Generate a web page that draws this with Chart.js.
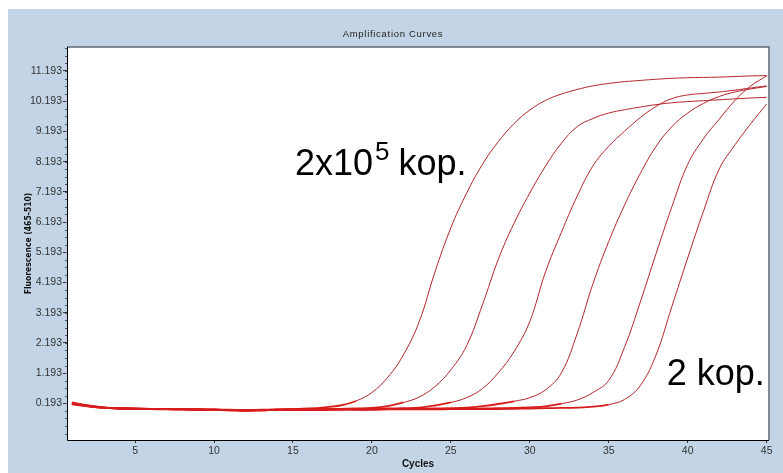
<!DOCTYPE html>
<html>
<head>
<meta charset="utf-8">
<title>Amplification Curves</title>
<script src="https://cdn.jsdelivr.net/npm/chart.js@4.4.1/dist/chart.umd.min.js"></script>
<style>
  html, body { margin: 0; padding: 0; background: #fff; }
  #wrap { width: 783px; height: 473px; }
</style>
</head>
<body>
<div id="wrap"><canvas id="canvas" width="783" height="473"></canvas></div>
<script>
// cycles and fluorescence per sample
const cycles = [1, 2, 3, 4, 5, 6, 7, 8, 9, 10, 11, 12, 13, 14, 15, 16, 17, 18, 19, 20, 21, 22, 23,
  24, 25, 26, 27, 28, 29, 30, 31, 32, 33, 34, 35, 36, 37, 38, 39, 40, 41, 42, 43, 44, 45];

const sample1 = [0.22, 0.12, 0.05, 0.03, 0.02, 0.01, 0.01, 0.00, 0.00, -0.01, -0.02, -0.03, -0.02, -0.01, 0.00,
  0.02, 0.06, 0.12, 0.27, 0.55, 1.05, 1.80, 2.90, 4.55, 6.00, 7.15, 8.10, 8.85, 9.45, 9.90,
  10.22, 10.43, 10.58, 10.70, 10.78, 10.84, 10.88, 10.92, 10.95, 10.97, 10.98, 10.99, 11.01, 11.03, 11.04];
const sample2 = [0.18, 0.10, 0.04, 0.02, 0.01, 0.00, 0.00, -0.01, -0.01, -0.02, -0.03, -0.04, -0.03, -0.02, -0.01,
  0.00, 0.00, 0.01, 0.02, 0.04, 0.10, 0.22, 0.40, 0.75, 1.30, 2.10, 3.45, 4.95, 6.15, 7.15,
  8.05, 8.80, 9.35, 9.62, 9.80, 9.91, 10.00, 10.08, 10.14, 10.18, 10.21, 10.24, 10.27, 10.30, 10.32];
const sample3 = [0.20, 0.11, 0.05, 0.02, 0.01, 0.01, 0.00, -0.01, -0.02, -0.02, -0.03, -0.05, -0.04, -0.02, -0.01,
  0.00, 0.00, 0.00, 0.00, 0.01, 0.02, 0.03, 0.05, 0.12, 0.22, 0.38, 0.68, 1.20, 1.90, 2.90,
  4.55, 5.85, 7.05, 8.05, 8.70, 9.20, 9.65, 10.02, 10.28, 10.40, 10.45, 10.50, 10.56, 10.63, 10.70];
const sample4 = [0.16, 0.09, 0.04, 0.02, 0.01, 0.00, -0.01, -0.01, -0.02, -0.03, -0.04, -0.05, -0.04, -0.03, -0.02,
  -0.02, -0.01, -0.01, -0.01, 0.00, 0.00, 0.00, 0.01, 0.02, 0.03, 0.05, 0.10, 0.17, 0.26, 0.38,
  0.64, 1.20, 2.50, 4.15, 5.55, 6.75, 7.80, 8.70, 9.35, 9.80, 10.12, 10.35, 10.50, 10.60, 10.68];
const sample5 = [0.21, 0.12, 0.06, 0.03, 0.02, 0.01, 0.00, 0.00, -0.01, -0.02, -0.03, -0.04, -0.03, -0.02, -0.02,
  -0.02, -0.02, -0.01, -0.01, -0.01, 0.00, 0.00, 0.00, 0.00, 0.01, 0.01, 0.02, 0.03, 0.04, 0.06,
  0.09, 0.18, 0.30, 0.55, 0.95, 2.05, 3.55, 5.15, 6.70, 8.10, 8.95, 9.60, 10.22, 10.70, 11.03];
const sample6 = [0.18, 0.10, 0.05, 0.02, 0.01, 0.00, 0.00, -0.01, -0.02, -0.03, -0.04, -0.05, -0.04, -0.03, -0.02,
  -0.03, -0.03, -0.02, -0.02, -0.02, -0.01, -0.01, -0.01, -0.01, 0.00, 0.00, 0.00, 0.00, 0.01, 0.02,
  0.03, 0.04, 0.05, 0.08, 0.15, 0.32, 0.78, 1.80, 3.40, 5.00, 6.55, 7.95, 8.75, 9.45, 10.10];

const sampleNames = ['2x10^5', '2x10^4', '2x10^3', '2x10^2', '20', '2'];
const seriesList = [sample1, sample2, sample3, sample4, sample5, sample6];

const yTicks = [0.193, 1.193, 2.193, 3.193, 4.193, 5.193, 6.193, 7.193, 8.193, 9.193, 10.193, 11.193];
const xTicks = [5, 10, 15, 20, 25, 30, 35, 40, 45];

const tickFont = { family: '"Liberation Sans", Arial, sans-serif', size: 10.5 };
const lineColor = '#b3262b';
const baseColor = '#d81c1c';

// flat part near zero is drawn heavier, like the overlapping baselines in the picture
function isBaseline(ctx) {
  return Math.abs(ctx.p0.parsed.y) < 0.3 && Math.abs(ctx.p1.parsed.y) < 0.3;
}

const datasets = seriesList.map(function (vals, i) {
  return {
    label: sampleNames[i],
    data: cycles.map(function (c, j) { return { x: c, y: vals[j] }; }),
    borderColor: lineColor,
    borderWidth: 1,
    pointRadius: 0,
    tension: 0.4,
    fill: false,
    segment: {
      borderColor: function (ctx) { return isBaseline(ctx) ? baseColor : undefined; },
      borderWidth: function (ctx) { return isBaseline(ctx) ? 1.8 : undefined; }
    }
  };
});

// background, frame, titles and the two notes
const decor = {
  id: 'decor',
  beforeDraw(chart) {
    const ctx = chart.ctx;
    const a = chart.chartArea;
    ctx.save();
    ctx.fillStyle = '#ffffff';
    ctx.fillRect(0, 0, chart.width, chart.height);
    ctx.fillStyle = '#c3d4e6';
    ctx.fillRect(8, 9, chart.width - 8, chart.height - 9);
    ctx.fillStyle = '#ffffff';
    ctx.fillRect(a.left, a.top, a.right - a.left, a.bottom - a.top);
    ctx.restore();
  },
  afterDraw(chart) {
    const ctx = chart.ctx;
    const a = chart.chartArea;
    const xs = chart.scales.x;
    const ys = chart.scales.y;
    ctx.save();

    // frame
    ctx.strokeStyle = '#5d6a78';
    ctx.lineWidth = 1.5;
    ctx.beginPath();
    ctx.moveTo(a.left, a.top);
    ctx.lineTo(a.right, a.top);
    ctx.lineTo(a.right, a.bottom);
    ctx.stroke();
    ctx.strokeStyle = '#000';
    ctx.lineWidth = 1;
    ctx.beginPath();
    ctx.moveTo(a.left + 0.5, a.top);
    ctx.lineTo(a.left + 0.5, a.bottom + 0.5);
    ctx.lineTo(a.right, a.bottom + 0.5);
    ctx.stroke();

    // minor y ticks
    ctx.strokeStyle = '#555';
    for (let v = yTicks[0] - 1; v < ys.max; v += 0.25) {
      if (v < ys.min) continue;
      const py = Math.round(ys.getPixelForValue(v)) + 0.5;
      ctx.beginPath();
      ctx.moveTo(a.left - 2, py);
      ctx.lineTo(a.left, py);
      ctx.stroke();
    }

    // titles
    ctx.fillStyle = '#222';
    ctx.font = '9.5px "Liberation Sans", Arial, sans-serif';
    ctx.letterSpacing = '0.7px';
    ctx.textAlign = 'center';
    ctx.textBaseline = 'alphabetic';
    ctx.fillText('Amplification Curves', 393, 37);
    ctx.letterSpacing = '0px';

    ctx.fillStyle = '#111';
    ctx.font = 'bold 10px "Liberation Sans", Arial, sans-serif';
    ctx.fillText('Cycles', (a.left + a.right) / 2, 467);

    ctx.save();
    ctx.translate(31, (a.top + a.bottom) / 2);
    ctx.rotate(-Math.PI / 2);
    ctx.font = 'bold 8.5px "Liberation Sans Narrow", "DejaVu Sans Condensed", Arial, sans-serif';
    ctx.fillText('Fluorescence (465-510)', 0, 0);
    ctx.restore();

    // notes on the curves
    ctx.fillStyle = '#000';
    ctx.textAlign = 'left';
    ctx.font = '36px "Liberation Sans", Arial, sans-serif';
    let px = xs.getPixelForValue(15.13);
    const py = ys.getPixelForValue(7.75);
    ctx.fillText('2x10', px, py);
    px += ctx.measureText('2x10').width + 2;
    ctx.font = '26px "Liberation Sans", Arial, sans-serif';
    ctx.fillText('5', px, py - 15);
    px += ctx.measureText('5').width + 9;
    ctx.font = '36px "Liberation Sans", Arial, sans-serif';
    ctx.fillText('kop.', px, py);

    ctx.fillText('2 kop.', xs.getPixelForValue(38.67), ys.getPixelForValue(0.80));
    ctx.restore();
  }
};

const config = {
  type: 'line',
  data: { datasets },
  options: {
    responsive: false,
    animation: false,
    devicePixelRatio: 1,
    layout: { padding: { left: 0, top: 47, right: 14, bottom: 0 } },
    plugins: { legend: { display: false }, tooltip: { enabled: false }, title: { display: false } },
    scales: {
      x: {
        type: 'linear',
        min: 0.69,
        max: 45.15,
        afterBuildTicks: function (s) { s.ticks = xTicks.map(function (v) { return { value: v }; }); },
        afterFit: function (s) { s.height = 33; },
        ticks: { font: tickFont, color: '#333', padding: 2, maxRotation: 0, autoSkip: false },
        grid: { drawOnChartArea: false, drawTicks: true, tickLength: 3, color: '#333' },
        border: { display: false }
      },
      y: {
        type: 'linear',
        min: -1.022,
        max: 11.987,
        afterBuildTicks: function (s) { s.ticks = yTicks.map(function (v) { return { value: v }; }); },
        afterFit: function (s) { s.width = 67; },
        ticks: {
          font: tickFont, color: '#333', padding: 1, autoSkip: false,
          callback: function (v) { return Number(v).toFixed(3); }
        },
        grid: { drawOnChartArea: false, drawTicks: true, tickLength: 4, color: '#333' },
        border: { display: false }
      }
    }
  },
  plugins: [decor]
};

let myChart = new Chart(document.getElementById('canvas'), config);
</script>
</body>
</html>
